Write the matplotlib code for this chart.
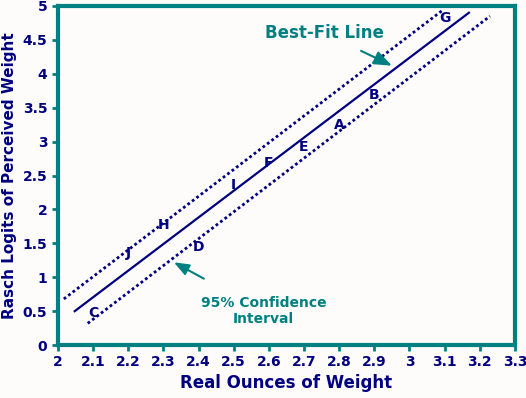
import numpy as np
import matplotlib.pyplot as plt

navy = "#000080"
teal = "#008080"

# best-fit line and 95% bands (end points)
fit_x = [2.048, 3.169]
fit_y = [0.50, 4.90]
upper_x = [2.017, 3.095]
upper_y = [0.68, 4.94]
lower_x = [2.085, 3.229]
lower_y = [0.32, 4.85]

# lettered items
labels = ["C", "J", "H", "D", "I", "F", "E", "A", "B", "G"]
item_x = [2.10, 2.20, 2.30, 2.40, 2.50, 2.60, 2.70, 2.80, 2.90, 3.10]
item_y = [0.47, 1.36, 1.77, 1.45, 2.36, 2.68, 2.92, 3.24, 3.69, 4.82]

xticks = [2, 2.1, 2.2, 2.3, 2.4, 2.5, 2.6, 2.7, 2.8, 2.9, 3, 3.1, 3.2, 3.3]
xticklabels = ["2", "2.1", "2.2", "2.3", "2.4", "2.5", "2.6", "2.7", "2.8", "2.9", "3", "3.1", "3.2", "3.3"]
yticks = [0, 0.5, 1, 1.5, 2, 2.5, 3, 3.5, 4, 4.5, 5]
yticklabels = ["0", "0.5", "1", "1.5", "2", "2.5", "3", "3.5", "4", "4.5", "5"]

fig = plt.figure(figsize=(5.26, 3.98), dpi=100, facecolor="#fdfcfa")
ax = fig.add_axes([0.110, 0.133, 0.869, 0.852])
ax.set_facecolor("#fdfcfa")

ax.plot(fit_x, fit_y, color=navy, lw=1.6)
ax.plot(upper_x, upper_y, color=navy, lw=2, linestyle=(0, (1, 1)))
ax.plot(lower_x, lower_y, color=navy, lw=2, linestyle=(0, (1, 1)))

for lab, x, y in zip(labels, item_x, item_y):
    ax.text(x, y, lab, color=navy, fontsize=10, fontweight="bold",
            ha="center", va="center")

ax.annotate("Best-Fit Line", xy=(2.95, 4.12), xytext=(2.757, 4.60),
            color=teal, fontsize=12, fontweight="bold", ha="center", va="center",
            arrowprops=dict(arrowstyle="-|>,head_length=0.9,head_width=0.35",
                            color=teal, lw=1.5, shrinkA=10, shrinkB=0))
ax.annotate("95% Confidence\nInterval", xy=(2.33, 1.22), xytext=(2.585, 0.50),
            color=teal, fontsize=10, fontweight="bold", ha="center", va="center",
            arrowprops=dict(arrowstyle="-|>,head_length=0.9,head_width=0.35",
                            color=teal, lw=1.5, shrinkA=22, shrinkB=0))

ax.set_xlim(2, 3.3)
ax.set_ylim(0, 5)
ax.set_xticks(xticks)
ax.set_xticklabels(xticklabels)
ax.set_yticks(yticks)
ax.set_yticklabels(yticklabels)
for sp in ax.spines.values():
    sp.set_color(teal)
    sp.set_linewidth(3)
ax.tick_params(colors=teal, width=2, length=4, labelcolor=navy, labelsize=10)
for t in ax.get_xticklabels() + ax.get_yticklabels():
    t.set_fontweight("bold")

ax.set_xlabel("Real Ounces of Weight", color=navy, fontsize=12, fontweight="bold", labelpad=3)
ax.set_ylabel("Rasch Logits of Perceived Weight", color=navy, fontsize=11, fontweight="bold", labelpad=4)

plt.savefig("out.png", dpi=100, facecolor=fig.get_facecolor())
